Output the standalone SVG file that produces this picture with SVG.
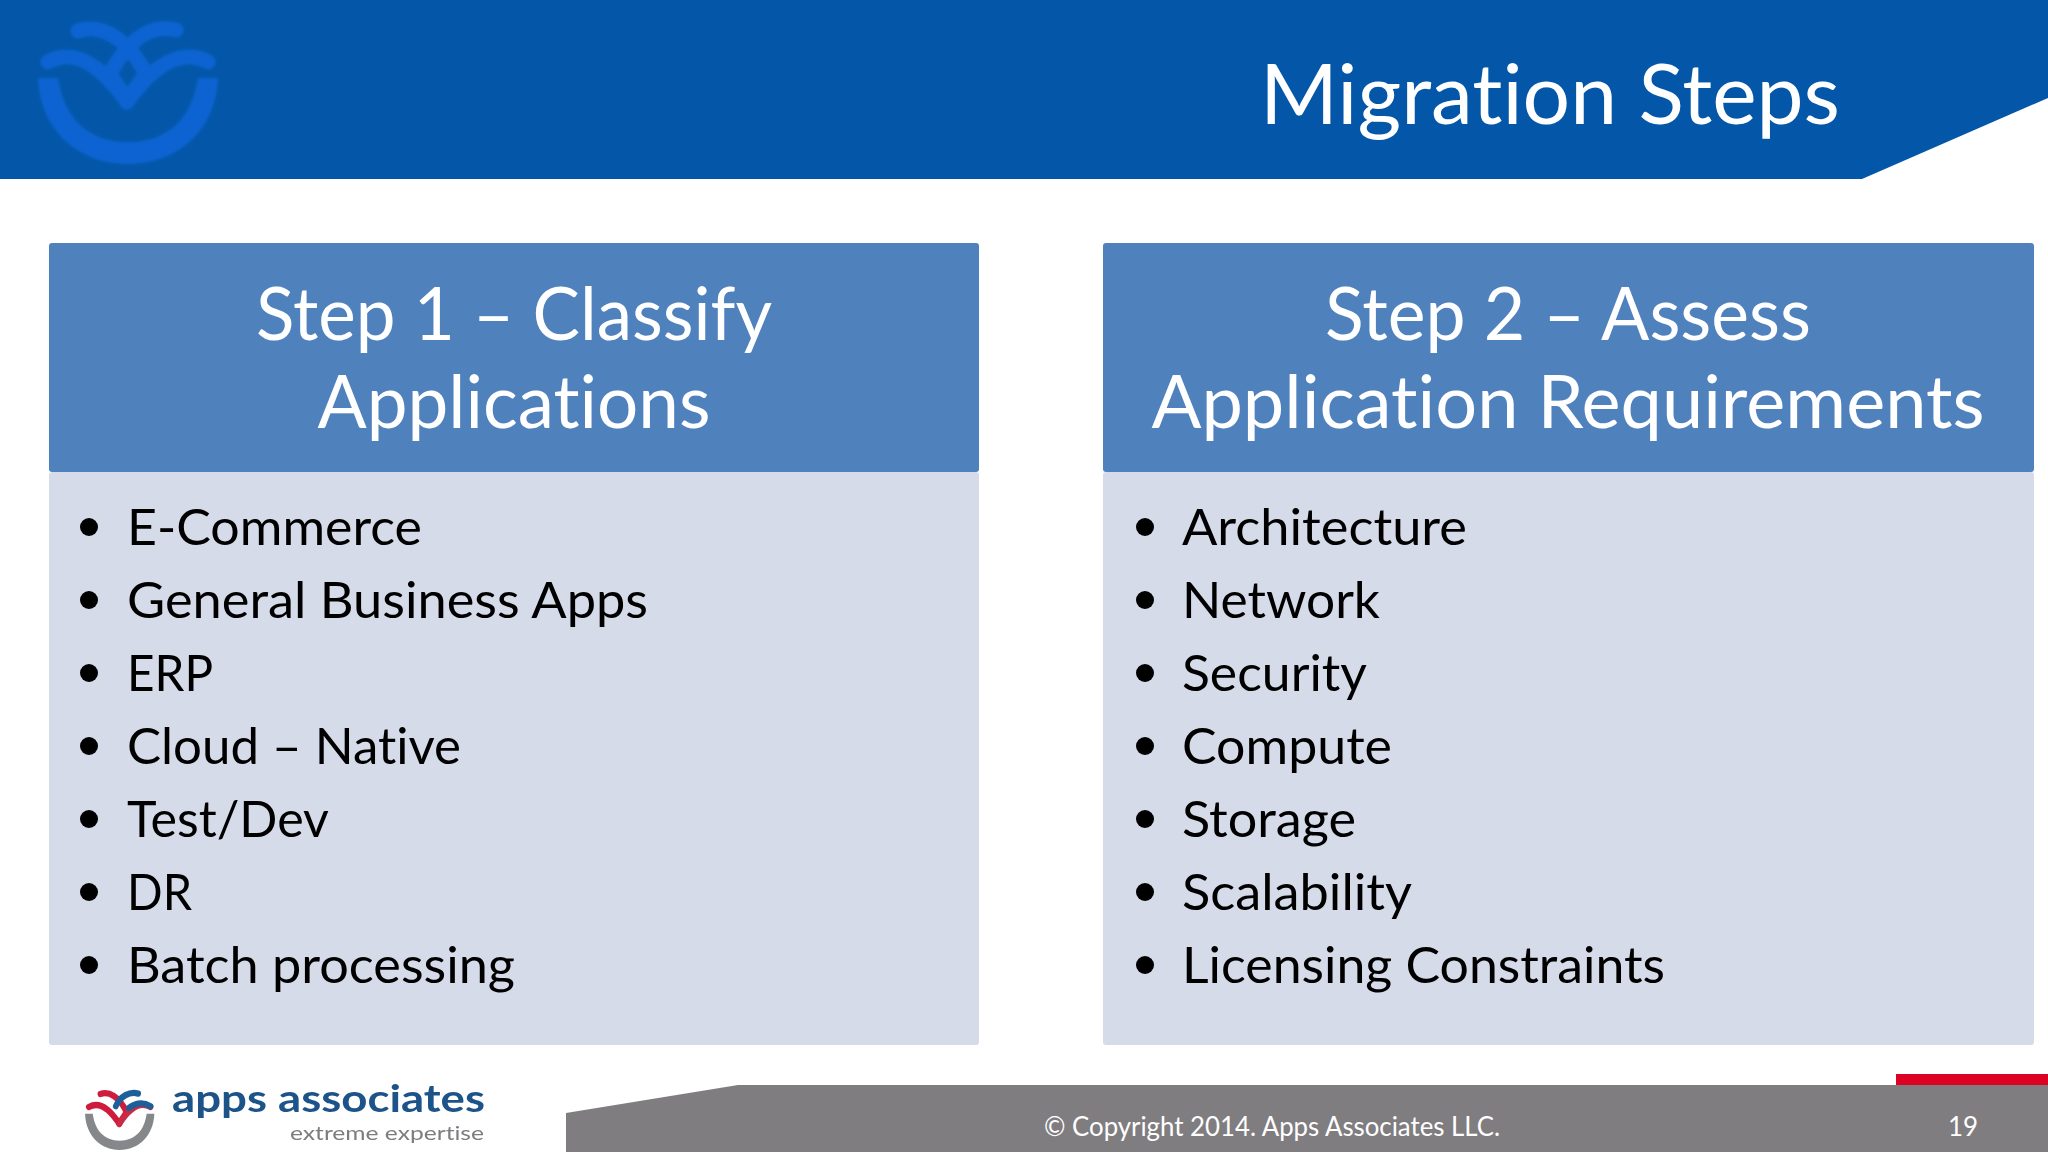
<svg xmlns="http://www.w3.org/2000/svg" width="2048" height="1152" viewBox="0 0 2048 1152">
<style>
text{font-family:Lato,"Liberation Sans",sans-serif;font-variant-ligatures:none}
.hd{fill:#4f81bd}
.bd{fill:#d6dbe9}
.h{font-size:73px;fill:#fff;text-anchor:middle}
.l{font-size:51px;fill:#000}
.b{fill:#000}
.w{fill:none;stroke-linecap:round}
</style>
<defs>
<filter id="soft" x="-10%" y="-10%" width="120%" height="120%"><feGaussianBlur stdDeviation="1.6"/></filter>
<filter id="soft2" x="-10%" y="-10%" width="120%" height="120%"><feGaussianBlur stdDeviation="0.7"/></filter>
</defs>
<rect width="2048" height="1152" fill="#fff"/>
<g id="header">
<polygon points="0,0 2048,0 2048,98 1862,179 0,179" fill="#0457a8"/>
<g id="header-logo" filter="url(#soft)">
<path fill="#0b63d1" d="M38 78 H58 C64 118 88 142 128 142 C168 142 192 118 198 78 H218 C216 130 178 164 128 164 C78 164 40 130 38 78Z"/>
<g class="w" stroke="#0b63d1" stroke-width="15">
<path d="M78 31 C100 24 126 36 146 74 L127 100"/>
<path d="M176 30 C154 24 130 36 110 74 L127 100"/>
<path d="M48 62 C74 48 100 64 127 102"/>
<path d="M208 62 C182 48 154 64 127 102"/>
</g>
</g>
<text x="1260" y="124" font-size="84" fill="#fff" textLength="580" lengthAdjust="spacingAndGlyphs">Migration Steps</text>
</g>
<g id="step1">
<rect class="hd" x="49" y="243" width="930" height="229" rx="3"/>
<rect class="bd" x="49" y="472" width="930" height="573" rx="3"/>
<text class="h" x="514" y="340" textLength="516" lengthAdjust="spacingAndGlyphs">Step 1 – Classify</text>
<text class="h" x="514" y="428" textLength="393" lengthAdjust="spacingAndGlyphs">Applications</text>
<g class="b"><circle cx="89" cy="527" r="9"/><circle cx="89" cy="600" r="9"/><circle cx="89" cy="673" r="9"/><circle cx="89" cy="746" r="9"/><circle cx="89" cy="819" r="9"/><circle cx="89" cy="892" r="9"/><circle cx="89" cy="965" r="9"/></g>
<text class="l" x="127" y="545" textLength="295" lengthAdjust="spacingAndGlyphs">E-Commerce</text>
<text class="l" x="127" y="618" textLength="521" lengthAdjust="spacingAndGlyphs">General Business Apps</text>
<text class="l" x="127" y="691" textLength="86" lengthAdjust="spacingAndGlyphs">ERP</text>
<text class="l" x="127" y="764" textLength="334" lengthAdjust="spacingAndGlyphs">Cloud – Native</text>
<text class="l" x="127" y="837" textLength="202" lengthAdjust="spacingAndGlyphs">Test/Dev</text>
<text class="l" x="127" y="910" textLength="65" lengthAdjust="spacingAndGlyphs">DR</text>
<text class="l" x="127" y="983" textLength="388" lengthAdjust="spacingAndGlyphs">Batch processing</text>
</g>
<g id="step2">
<rect class="hd" x="1103" y="243" width="931" height="229" rx="3"/>
<rect class="bd" x="1103" y="472" width="931" height="573" rx="3"/>
<text class="h" x="1568" y="340" textLength="486" lengthAdjust="spacingAndGlyphs">Step 2 – Assess</text>
<text class="h" x="1568" y="428" textLength="833" lengthAdjust="spacingAndGlyphs">Application Requirements</text>
<g class="b"><circle cx="1145" cy="527" r="9"/><circle cx="1145" cy="600" r="9"/><circle cx="1145" cy="673" r="9"/><circle cx="1145" cy="746" r="9"/><circle cx="1145" cy="819" r="9"/><circle cx="1145" cy="892" r="9"/><circle cx="1145" cy="965" r="9"/></g>
<text class="l" x="1182" y="545" textLength="285" lengthAdjust="spacingAndGlyphs">Architecture</text>
<text class="l" x="1182" y="618" textLength="198" lengthAdjust="spacingAndGlyphs">Network</text>
<text class="l" x="1182" y="691" textLength="185" lengthAdjust="spacingAndGlyphs">Security</text>
<text class="l" x="1182" y="764" textLength="210" lengthAdjust="spacingAndGlyphs">Compute</text>
<text class="l" x="1182" y="837" textLength="174" lengthAdjust="spacingAndGlyphs">Storage</text>
<text class="l" x="1182" y="910" textLength="230" lengthAdjust="spacingAndGlyphs">Scalability</text>
<text class="l" x="1182" y="983" textLength="483" lengthAdjust="spacingAndGlyphs">Licensing Constraints</text>
</g>
<g id="footer">
<rect x="1896" y="1074" width="152" height="12" fill="#dd0224"/>
<polygon points="566,1152 566,1113 738,1085 2048,1085 2048,1152" fill="#7f7d80"/>
<text x="1044" y="1136" font-size="26" fill="#fff" textLength="456" lengthAdjust="spacingAndGlyphs">© Copyright 2014. Apps Associates LLC.</text>
<text x="1948" y="1136" font-size="26" fill="#fff">19</text>
</g>
<g id="footer-logo">
<g filter="url(#soft2)" transform="translate(70.4,1081) scale(.385,.42)">
<path fill="#85878a" d="M38 78 H58 C64 118 88 142 128 142 C168 142 192 118 198 78 H218 C216 130 178 164 128 164 C78 164 40 130 38 78Z"/>
<g class="w" stroke-width="15">
<path stroke="#cf1c3c" d="M48 62 C74 48 100 64 127 102"/>
<path stroke="#cf1c3c" d="M78 31 C100 24 126 36 146 74 L127 100"/>
<path stroke="#c92a45" d="M208 62 C182 48 154 64 127 102"/>
<path stroke="#1f5f9a" d="M176 30 C154 24 130 36 118 60"/>
<path stroke="#1f5f9a" d="M208 60 C190 50 170 52 152 64"/>
</g>
</g>
<text x="172" y="1112" font-size="38" font-weight="700" fill="#1f5288" textLength="313" lengthAdjust="spacingAndGlyphs" filter="url(#soft2)">apps associates</text>
<text x="290" y="1140" font-size="20" fill="#7c7d80" textLength="194" lengthAdjust="spacingAndGlyphs" filter="url(#soft2)">extreme expertise</text>
</g>
</svg>
